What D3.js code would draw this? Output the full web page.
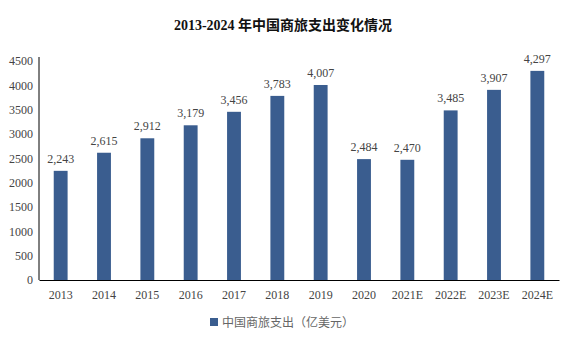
<!DOCTYPE html>
<html>
<head>
<meta charset="utf-8">
<script src="https://cdn.jsdelivr.net/npm/d3@7"></script>
<style>
  html, body { margin: 0; padding: 0; background: #fff; }
  svg { display: block; }
</style>
</head>
<body>
<svg id="chart" width="566" height="338"></svg>
<script>
// Business travel spending in China, 2013-2024 (100 million USD); E = estimate
const years = ["2013", "2014", "2015", "2016", "2017", "2018", "2019", "2020", "2021E", "2022E", "2023E", "2024E"];
const spending = [2243, 2615, 2912, 3179, 3456, 3783, 4007, 2484, 2470, 3485, 3907, 4297];
const yTicks = [0, 500, 1000, 1500, 2000, 2500, 3000, 3500, 4000, 4500];
const titleText = "2013-2024 年中国商旅支出变化情况";
const legendText = "中国商旅支出（亿美元）";

const barColor = "#3a5d8f";
const serif = "'Liberation Serif', 'Times New Roman', 'Noto Serif CJK SC', 'Noto Sans CJK SC', serif";
const cjk = "'Noto Sans CJK SC', sans-serif";

const svg = d3.select("#chart");
const plot = { left: 39, right: 559, top: 61, bottom: 280 };

const x = d3.scaleBand().domain(years).range([plot.left, plot.right]).paddingInner(0.68).paddingOuter(0.34);
const y = d3.scaleLinear().domain([0, 4500]).range([plot.bottom, plot.top]);

// Title: Latin digits in a serif face, Chinese in bold CJK
const title = svg.append("text")
  .attr("x", 283).attr("y", 30)
  .attr("text-anchor", "middle")
  .attr("font-weight", "bold")
  .attr("font-size", 14)
  .attr("fill", "#111");
title.append("tspan").attr("font-family", serif).text(titleText.slice(0, 10));
title.append("tspan").attr("font-family", cjk).text(titleText.slice(10));

// Y axis
const yAxis = svg.append("g")
  .attr("transform", `translate(${plot.left},0)`)
  .call(d3.axisLeft(y).tickValues(yTicks).tickSize(0).tickPadding(6).tickFormat(d3.format("d")));
yAxis.select(".domain").attr("stroke", "#000").attr("stroke-width", 1)
  .attr("d", `M0,${plot.top - 4}V${plot.bottom}`);
yAxis.selectAll("text").attr("font-family", serif).attr("font-size", 12).attr("fill", "#444");

// X axis
const xAxis = svg.append("g")
  .attr("transform", `translate(0,${plot.bottom})`)
  .call(d3.axisBottom(x).tickSize(0).tickPadding(10));
xAxis.select(".domain").attr("stroke", "#000").attr("stroke-width", 1.2);
xAxis.selectAll("text").attr("font-family", serif).attr("font-size", 12).attr("fill", "#444");

// Bars
svg.append("g").selectAll("rect")
  .data(years.map((yr, i) => ({ yr, v: spending[i] })))
  .join("rect")
  .attr("x", d => x(d.yr))
  .attr("y", d => y(d.v))
  .attr("width", x.bandwidth())
  .attr("height", d => y(0) - y(d.v))
  .attr("fill", barColor);

// Value labels
svg.append("g").selectAll("text")
  .data(years.map((yr, i) => ({ yr, v: spending[i] })))
  .join("text")
  .attr("x", d => x(d.yr) + x.bandwidth() / 2)
  .attr("y", d => y(d.v) - 8)
  .attr("text-anchor", "middle")
  .attr("font-family", serif)
  .attr("font-size", 12)
  .attr("fill", "#444")
  .text(d => d3.format(",")(d.v));

// Legend
const legend = svg.append("g").attr("transform", "translate(210,318)");
legend.append("rect").attr("width", 8).attr("height", 8).attr("fill", barColor);
legend.append("text")
  .attr("x", 12).attr("y", 8.5)
  .attr("font-family", cjk)
  .attr("font-size", 12)
  .attr("fill", "#666")
  .text(legendText);
</script>
</body>
</html>
